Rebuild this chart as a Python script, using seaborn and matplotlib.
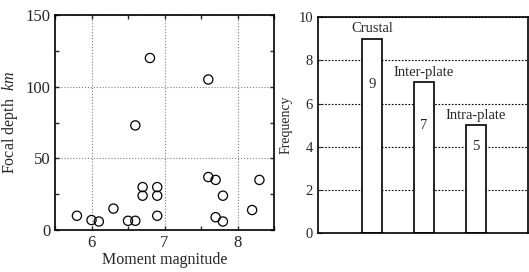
import numpy as np
import pandas as pd
import matplotlib.pyplot as plt
import seaborn as sns

# left panel: moment magnitude vs focal depth
magnitud = [5.8, 6.0, 6.1, 6.3, 6.5, 6.6, 6.6, 6.7, 6.7, 6.8, 6.9, 6.9, 6.9,
            7.6, 7.6, 7.7, 7.8, 7.7, 7.8, 8.2, 8.3]
profundidad = [10, 7, 6, 15, 6.5, 6.5, 73, 30, 24, 120, 30, 24, 10,
               105, 37, 35, 24, 9, 6, 14, 35]

# right panel: frequency per type
tipos = ["Crustal", "Inter-plate", "Intra-plate"]
frecuencia = [9, 7, 5]
pos_numero = [6.9, 5.0, 4.0]

sns.set_style("ticks")
plt.rcParams['font.family'] = ['Liberation Serif', 'DejaVu Serif']
plt.rcParams['mathtext.fontset'] = 'custom'
plt.rcParams['mathtext.rm'] = 'Liberation Serif'
plt.rcParams['mathtext.it'] = 'Liberation Serif:italic'
plt.rcParams['axes.linewidth'] = 1.2

fig = plt.figure(figsize=(5.29, 2.72), dpi=100)
ax1 = fig.add_axes([0.104, 0.154, 0.414, 0.791])
ax2 = fig.add_axes([0.601, 0.143, 0.397, 0.794])

df_sc = pd.DataFrame({"mag": magnitud, "prof": profundidad})
sns.scatterplot(data=df_sc, x="mag", y="prof", ax=ax1, marker="o", s=44,
                facecolor="none", edgecolor="black", linewidth=0.9, zorder=3)
ax1.set_xlim(5.5, 8.5)
ax1.set_ylim(0, 150)
ax1.set_xticks([6, 7, 8])
ax1.set_xticks([5.5, 6.5, 7.5, 8.5], minor=True)
ax1.set_yticks([0, 50, 100, 150])
ax1.set_yticks([25, 75, 125], minor=True)
ax1.tick_params(which="both", direction="in", top=True, right=True,
                labelsize=12, length=3, width=1)
ax1.grid(True, which="major", linestyle=":", color="gray", linewidth=0.8)
ax1.set_xlabel("Moment magnitude", fontsize=11.5, labelpad=1)
ax1.set_ylabel(r"Focal depth  $\mathit{km}$", fontsize=11.5)
for s in ax1.spines.values():
    s.set_color("black")

df_bar = pd.DataFrame({"tipo": tipos, "freq": frecuencia})
ax2.set_axisbelow(True)
ax2.grid(True, axis="y", linestyle=(0, (1.5, 1.5)), color="black", linewidth=0.8)
sns.barplot(data=df_bar, x="tipo", y="freq", ax=ax2, width=0.38,
            color="white", edgecolor="black", linewidth=1.2, zorder=2)
for i, (t, v) in enumerate(zip(tipos, frecuencia)):
    ax2.text(i, v + 0.15, t, ha="center", va="bottom", fontsize=10.5)
    ax2.text(i, pos_numero[i], str(v), ha="center", va="center", fontsize=10.5,
             bbox=dict(facecolor="white", edgecolor="none", pad=1), zorder=4)
ax2.set_xlim(-1.04, 3.0)
ax2.set_ylim(0, 10)
ax2.set_yticks([0, 2, 4, 6, 8, 10])
ax2.set_xticks([])
ax2.set_xlabel("")
ax2.set_ylabel("Frequency", fontsize=10)
ax2.tick_params(axis="y", direction="in", labelsize=10.5, length=3)
for s in ax2.spines.values():
    s.set_color("black")
    s.set_visible(True)

fig.savefig("out.png", dpi=100)
